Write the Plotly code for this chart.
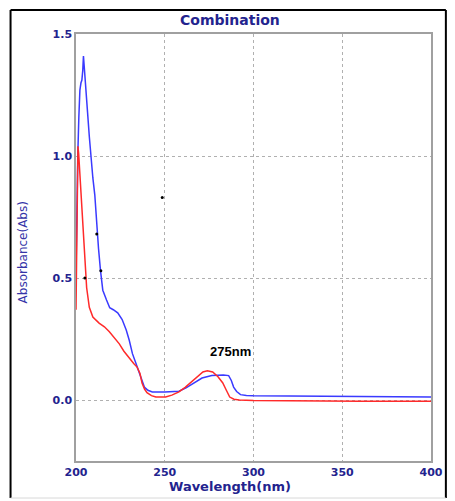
import plotly.graph_objects as go

# Blue spectrum (wavelength nm, absorbance)
blue_wl = [200.0, 200.5, 201.0, 201.6, 202.2, 202.8, 203.3, 203.8, 204.2, 204.5, 204.9, 205.5, 206.5,
           207.5, 208.5, 209.5, 210.6, 211.6, 212.7, 213.8, 215.1, 217.2, 219.0, 221.0, 223.5,
           226.0, 228.3, 230.0, 231.8, 233.8, 235.8, 237.2, 238.5, 240.5, 243.0, 250.0, 258.0,
           262.0, 266.0, 271.0, 276.5, 280.0, 283.0, 286.0, 287.5, 288.8, 290.5, 292.7, 296.0,
           300.0, 320.0, 340.0, 360.0, 380.0, 400.0]
blue_abs = [0.52, 0.80, 1.00, 1.16, 1.27, 1.30, 1.31, 1.35, 1.41, 1.38, 1.33, 1.28, 1.18,
            1.08, 0.99, 0.91, 0.84, 0.72, 0.62, 0.53, 0.45, 0.41, 0.378, 0.37, 0.357,
            0.33, 0.287, 0.245, 0.19, 0.15, 0.11, 0.08, 0.053, 0.04, 0.033, 0.033, 0.036,
            0.05, 0.068, 0.09, 0.10, 0.102, 0.102, 0.10, 0.08, 0.053, 0.035, 0.022, 0.018,
            0.017, 0.016, 0.012, 0.012, 0.012, 0.012]

# Red spectrum
red_wl = [200.0, 200.4, 200.8, 201.1, 201.5, 202.0, 203.0, 204.0, 205.0, 206.0, 207.5, 209.5,
          213.0, 216.0, 218.8, 221.5, 224.4, 227.0, 230.0, 232.5, 234.4, 236.0, 237.2, 238.6,
          240.0, 242.5, 245.0, 250.5, 254.0, 258.0, 261.5, 265.0, 268.5, 271.5, 274.0, 277.0,
          280.0, 282.7, 284.7, 286.6, 289.0, 292.0, 300.0, 330.0, 360.0, 400.0]
red_abs = [0.37, 0.70, 0.95, 1.04, 1.01, 0.95, 0.85, 0.72, 0.56, 0.46, 0.38, 0.34,
           0.315, 0.30, 0.28, 0.255, 0.23, 0.20, 0.17, 0.15, 0.135, 0.11, 0.07, 0.045,
           0.03, 0.018, 0.012, 0.012, 0.02, 0.033, 0.052, 0.074, 0.097, 0.115, 0.12, 0.115,
           0.095, 0.07, 0.04, 0.012, 0.003, 0.0, -0.002, -0.004, -0.005, -0.005]

# small black dots seen on the trace
dot_wl = [205.0, 211.7, 214.0, 248.6]
dot_abs = [0.50, 0.68, 0.53, 0.83]

x_ticks = [200, 250, 300, 350, 400]
x_ticktext = ["200", "250", "300", "350", "400"]
y_ticks = [0.0, 0.5, 1.0, 1.5]
y_ticktext = ["0.0", "0.5", "1.0", "1.5"]

navy = "#23238e"
bold_font = "DejaVu Sans, Verdana, sans-serif"

fig = go.Figure()
fig.add_trace(go.Scatter(x=blue_wl, y=blue_abs, mode="lines",
                         line=dict(color="#3a3aff", width=1.5), showlegend=False))
fig.add_trace(go.Scatter(x=red_wl, y=red_abs, mode="lines",
                         line=dict(color="#ff2a2a", width=1.5), showlegend=False))
fig.add_trace(go.Scatter(x=dot_wl, y=dot_abs, mode="markers",
                         marker=dict(color="black", size=3), showlegend=False))

axis_common = dict(showline=True, mirror=True, linecolor="#a0a0a0", linewidth=1.5,
                   showgrid=True, gridcolor="#b0b0b0", griddash="dot", gridwidth=1,
                   zeroline=False, ticks="",
                   tickfont=dict(family=bold_font, size=11, color=navy, weight="bold"))

fig.update_layout(
    width=455, height=501,
    margin=dict(l=76, r=21, t=34, b=40),
    paper_bgcolor="white", plot_bgcolor="white",
    xaxis=dict(range=[200, 400], tickvals=x_ticks, ticktext=x_ticktext, **axis_common),
    yaxis=dict(range=[-0.25, 1.5], tickvals=y_ticks, ticktext=y_ticktext, **axis_common),
)


# outer frame (pixel -> paper conversion)
def px_x(p):
    return (p - 76) / 358.0


def px_y(p):
    return (461 - p) / 427.0


fig.add_shape(type="line", xref="paper", yref="paper", x0=px_x(10), x1=px_x(10), y0=px_y(10), y1=px_y(498),
              line=dict(color="black", width=2))
fig.add_shape(type="line", xref="paper", yref="paper", x0=px_x(10), x1=px_x(449), y0=px_y(10), y1=px_y(10),
              line=dict(color="black", width=2))
fig.add_shape(type="line", xref="paper", yref="paper", x0=px_x(449), x1=px_x(449), y0=px_y(10), y1=px_y(498),
              line=dict(color="black", width=2))
fig.add_shape(type="line", xref="paper", yref="paper", x0=px_x(10), x1=px_x(449), y0=px_y(498), y1=px_y(498),
              line=dict(color="#d8d8d8", width=1))

fig.add_annotation(text="Combination", xref="paper", yref="paper", x=px_x(231), y=px_y(20),
                   showarrow=False, xanchor="center", yanchor="middle",
                   font=dict(family=bold_font, size=14, color=navy, weight="bold"))
fig.add_annotation(text="Wavelength(nm)", xref="paper", yref="paper", x=px_x(231), y=px_y(486),
                   showarrow=False, xanchor="center", yanchor="middle",
                   font=dict(family=bold_font, size=13, color=navy, weight="bold"))
fig.add_annotation(text="Absorbance(Abs)", xref="paper", yref="paper", x=px_x(23), y=px_y(252),
                   showarrow=False, xanchor="center", yanchor="middle", textangle=-90,
                   font=dict(family=bold_font, size=12, color="#3535a8"))
fig.add_annotation(text="275nm", x=287, y=0.197, xref="x", yref="y",
                   showarrow=False, xanchor="center", yanchor="middle",
                   font=dict(family="Liberation Sans Narrow, Arial Narrow, Liberation Sans", size=13,
                             color="black", weight="bold"))

fig.write_html("out.html", post_script="document.body.style.margin='0';",
               config={"displayModeBar": False})
